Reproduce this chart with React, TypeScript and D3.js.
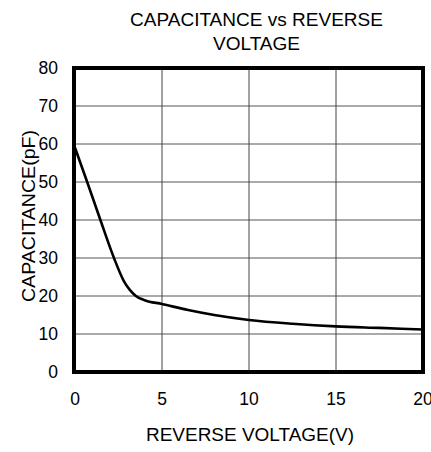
import React from "react";
import * as d3 from "d3";

const voltage = [0, 0.7, 1.46, 2.24, 2.8, 3.15, 3.5, 4, 5, 6.5, 8, 10, 12.5, 15, 17.5, 20];
const capacitance = [59, 50, 40, 30, 24, 21.6, 20, 18.9, 17.9, 16.3, 15, 13.7, 12.7, 12, 11.6, 11.2];
const xTicks = [0, 5, 10, 15, 20];
const yTicks = [0, 10, 20, 30, 40, 50, 60, 70, 80];
const titleLines = ["CAPACITANCE vs REVERSE", "VOLTAGE"];
const xLabel = "REVERSE VOLTAGE(V)";
const yLabel = "CAPACITANCE(pF)";

const W = 431;
const H = 452;
const left = 75;
const right = 423;
const top = 68;
const bottom = 372;
const font = "'Liberation Sans', Arial, sans-serif";

export default function App() {
  const x = d3.scaleLinear().domain([0, 20]).range([left, right]);
  const y = d3.scaleLinear().domain([0, 80]).range([bottom, top]);
  const pts: [number, number][] = voltage.map((v, i) => [v, capacitance[i]]);
  const line = d3
    .line<[number, number]>()
    .x((d) => x(d[0]))
    .y((d) => y(d[1]))
    .curve(d3.curveMonotoneX);

  return (
    <svg
      width={W}
      height={H}
      style={{ position: "absolute", left: 0, top: 0, background: "#fff" }}
      fontFamily={font}
    >
      <rect x={0} y={0} width={W} height={H} fill="#fff" />
      {/* grid */}
      {yTicks.slice(1, -1).map((t) => (
        <line key={"gy" + t} x1={left} x2={right} y1={y(t)} y2={y(t)} stroke="#555" strokeWidth={1} />
      ))}
      {xTicks.slice(1, -1).map((t) => (
        <line key={"gx" + t} x1={x(t)} x2={x(t)} y1={top} y2={bottom} stroke="#444" strokeWidth={1} />
      ))}
      <defs>
        <clipPath id="plotclip">
          <rect x={left} y={top} width={right - left} height={bottom - top} />
        </clipPath>
      </defs>
      <path d={line(pts) || ""} fill="none" stroke="#000" strokeWidth={2.6} clipPath="url(#plotclip)" />
      {/* frame */}
      <rect x={left - 1} y={top} width={right - left + 1} height={bottom - top} fill="none" stroke="#000" strokeWidth={4} />
      {/* y ticks */}
      {yTicks.map((t) => (
        <text key={"ty" + t} x={58} y={y(t)} dy="0.36em" textAnchor="end" fontSize={17.5} fill="#000">
          {t}
        </text>
      ))}
      {/* x ticks */}
      {xTicks.map((t) => (
        <text key={"tx" + t} x={x(t)} y={405} textAnchor="middle" fontSize={17.5} fill="#000">
          {t}
        </text>
      ))}
      {/* title */}
      <text x={256.5} y={25.7} textAnchor="middle" fontSize={18} textLength={253} lengthAdjust="spacingAndGlyphs">
        {titleLines[0]}
      </text>
      <text x={256.5} y={50} textAnchor="middle" fontSize={18} textLength={87} lengthAdjust="spacingAndGlyphs">
        {titleLines[1]}
      </text>
      {/* x label */}
      <text x={250} y={441} textAnchor="middle" fontSize={18} textLength={208} lengthAdjust="spacingAndGlyphs">
        {xLabel}
      </text>
      {/* y label */}
      <text
        transform={`translate(35,216) rotate(-90)`}
        textAnchor="middle"
        fontSize={18.5}
        textLength={172}
        lengthAdjust="spacingAndGlyphs"
      >
        {yLabel}
      </text>
    </svg>
  );
}
